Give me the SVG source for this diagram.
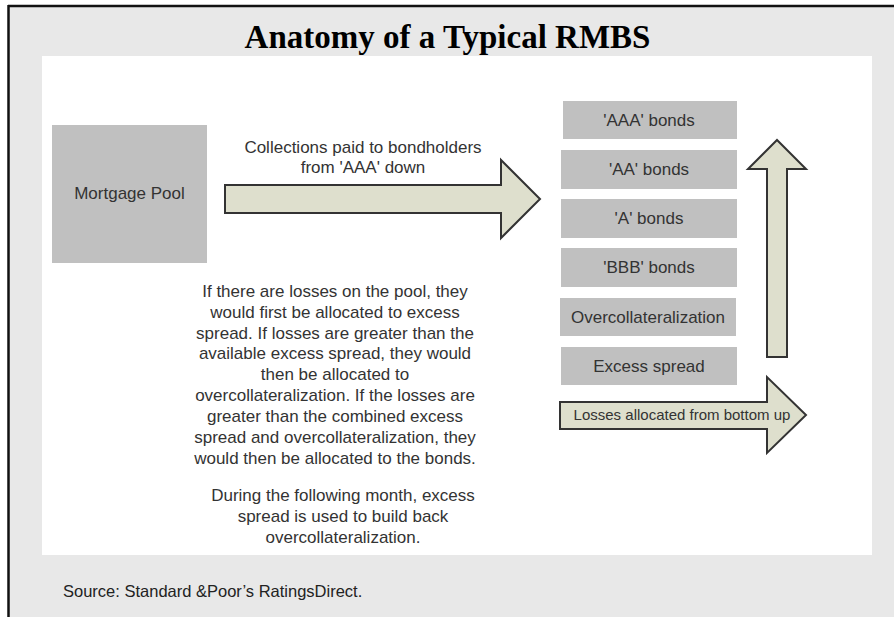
<svg xmlns="http://www.w3.org/2000/svg" width="894" height="617" viewBox="0 0 894 617">
<style>
.lbl{font-family:"Liberation Sans",Arial,sans-serif;font-size:17px;fill:#333;text-anchor:middle}
.box{fill:#c0c0c0}
.arrow{fill:#dedfcd;stroke:#333;stroke-width:2;stroke-linejoin:miter}
</style>
<rect x="0" y="0" width="894" height="617" fill="#ffffff"/>
<rect x="8" y="6" width="886" height="611" fill="#e8e8e8"/>
<line x1="8" y1="6" x2="894" y2="6" stroke="#111" stroke-width="2.5"/>
<line x1="8.5" y1="5" x2="8.5" y2="617" stroke="#111" stroke-width="2.5"/>
<text x="447.5" y="48" style="font-family:'Liberation Serif','Times New Roman',serif;font-weight:bold;font-size:33px;fill:#000" text-anchor="middle">Anatomy of a Typical RMBS</text>
<rect x="42" y="56" width="830" height="499" fill="#ffffff"/>

<g id="connectors">
<path class="arrow" d="M225,185 H501 V160 L540,199 L501,238 V213 H225 Z"/>
<path class="arrow" d="M767,357 V169 H748 L777,140 L806,169 H787 V357 Z"/>
<path class="arrow" d="M560,402 H767 V377 L806,415 L767,453 V429 H560 Z"/>
<text class="lbl" x="682" y="420" style="font-size:15px">Losses allocated from bottom up</text>
<text class="lbl" x="363" y="153">Collections paid to bondholders</text>
<text class="lbl" x="363" y="173">from 'AAA' down</text>
</g>

<g id="mortgage-pool">
<rect class="box" x="52" y="125" width="155" height="138"/>
<text class="lbl" x="129.5" y="199">Mortgage Pool</text>
</g>
<g id="aaa">
<rect class="box" x="563" y="101" width="174" height="38"/>
<text class="lbl" x="649" y="126">'AAA' bonds</text>
</g>
<g id="aa">
<rect class="box" x="561" y="150" width="176" height="39"/>
<text class="lbl" x="649" y="175">'AA' bonds</text>
</g>
<g id="a">
<rect class="box" x="561" y="199" width="176" height="39"/>
<text class="lbl" x="649" y="224">'A' bonds</text>
</g>
<g id="bbb">
<rect class="box" x="561" y="248" width="176" height="39"/>
<text class="lbl" x="649" y="273">'BBB' bonds</text>
</g>
<g id="overcollateralization">
<rect class="box" x="560" y="298" width="176" height="38"/>
<text class="lbl" x="648" y="323">Overcollateralization</text>
</g>
<g id="excess-spread">
<rect class="box" x="561" y="347" width="176" height="38"/>
<text class="lbl" x="649" y="372">Excess spread</text>
</g>

<g id="explanation">
<text class="lbl" x="335" y="297">If there are losses on the pool, they</text>
<text class="lbl" x="335" y="318">would first be allocated to excess</text>
<text class="lbl" x="335" y="339">spread. If losses are greater than the</text>
<text class="lbl" x="335" y="359">available excess spread, they would</text>
<text class="lbl" x="335" y="380">then be allocated to</text>
<text class="lbl" x="335" y="401">overcollateralization. If the losses are</text>
<text class="lbl" x="335" y="422">greater than the combined excess</text>
<text class="lbl" x="335" y="443">spread and overcollateralization, they</text>
<text class="lbl" x="335" y="464">would then be allocated to the bonds.</text>
<text class="lbl" x="343" y="501">During the following month, excess</text>
<text class="lbl" x="343" y="522">spread is used to build back</text>
<text class="lbl" x="343" y="543">overcollateralization.</text>
</g>

<text x="63" y="597" style="font-family:'Liberation Sans',Arial,sans-serif;font-size:16.5px;fill:#222">Source: Standard &amp;Poor’s RatingsDirect.</text>
</svg>
